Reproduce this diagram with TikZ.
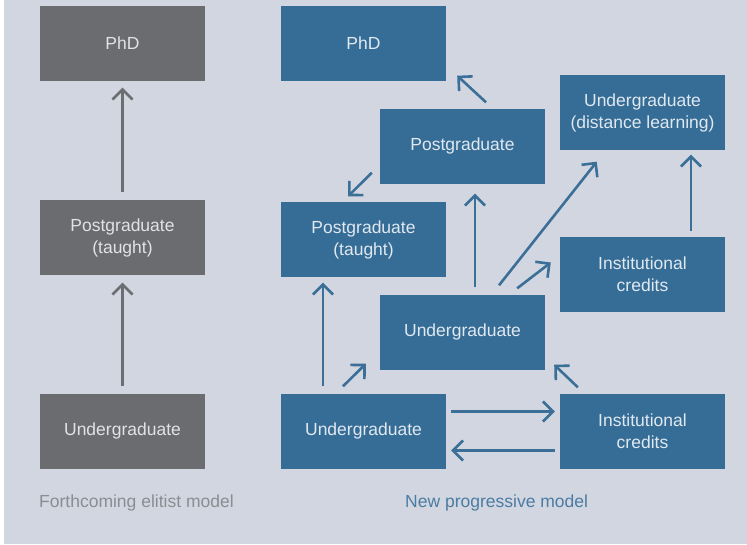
\documentclass[tikz,border=0pt]{standalone}
\usepackage{fontspec}
\setmainfont{Liberation Sans}
\usetikzlibrary{arrows.meta,calc}

\definecolor{bgcol}{HTML}{D1D6E1}
\definecolor{greybox}{HTML}{6B6C70}
\definecolor{bluebox}{HTML}{366D96}
\definecolor{greyline}{HTML}{6D6E71}
\definecolor{blueline}{HTML}{3B6F97}
\definecolor{greytext}{HTML}{E2E2E3}
\definecolor{bluetext}{HTML}{E0E8F0}
\definecolor{greycap}{HTML}{8A8D92}
\definecolor{bluecap}{HTML}{4C7CA2}

\tikzset{
  box/.style={minimum width=165pt, minimum height=75pt, inner sep=0pt,
    align=center, font=\fontsize{17.5}{22}\selectfont},
  oldbox/.style={box, fill=greybox, text=greytext},
  newbox/.style={box, fill=bluebox, text=bluetext},
  link/.style={line width=2.6pt,
    -{Straight Barb[length=10pt,width=20pt,line width=2.6pt]}},
  oldlink/.style={link, draw=greyline},
  newlink/.style={link, draw=blueline},
  caption/.style={anchor=base west, inner sep=0pt,
    font=\fontsize{17.5}{20}\selectfont}
}

\begin{document}
\begin{tikzpicture}[x=1pt, y=-1pt]
  % background panel
  \fill[white] (0,0) rectangle (747,544);
  \fill[bgcol] (4,0) rectangle (747,544);
  \useasboundingbox (0,0) rectangle (747,544);

  % elitist model
  \node[oldbox] (lphd) at (122.5,43) {PhD};
  \node[oldbox] (lpgt) at (122.5,237.5) {Postgraduate\\(taught)};
  \node[oldbox] (lug)  at (122.5,431) {Undergraduate};

  \draw[oldlink] ($(lpgt.north)+(0,-8)$) -- ($(lphd.south)+(0,7)$);
  \draw[oldlink] ($(lug.north)+(0,-7)$) -- ($(lpgt.south)+(0,7.5)$);

  % progressive model
  \node[newbox] (rphd) at (363.5,43) {PhD};
  \node[newbox] (pg)   at (462.5,146) {Postgraduate};
  \node[newbox] (pgt)  at (363.5,239.5) {Postgraduate\\(taught)};
  \node[newbox] (ugm)  at (462.5,332) {Undergraduate};
  \node[newbox] (ugd)  at (642.5,112.5) {Undergraduate\\(distance learning)};
  \node[newbox] (ict)  at (642.5,274.5) {Institutional\\credits};
  \node[newbox] (icb)  at (642.5,431) {Institutional\\credits};
  \node[newbox] (ugb)  at (363.5,431) {Undergraduate};

  \draw[newlink] ($(pg.north)+(23.5,-6)$) -- ($(rphd.south east)+(11,-5)$);
  \draw[newlink] ($(pg.south west)+(-8,-11)$) -- ($(pgt.north)+(-15.5,-5.5)$);
  \draw[newlink] ($(ugm.north)+(12.5,-7)$) -- ($(pg.south)+(12.5,10)$);
  \draw[newlink] ($(ugm.north)+(36.5,-9)$) -- ($(ugd.south west)+(37,11.5)$);
  \draw[newlink] ($(ugm.north east)+(-28,-6)$) -- ($(ict.west)+(-9,-12)$);
  \draw[newlink] ($(ict.north)+(48.5,-6)$) -- ($(ugd.south)+(48.5,4.5)$);
  \draw[newlink] ($(ugb.north)+(-40.5,-7)$) -- ($(pgt.south)+(-40.5,5.5)$);
  \draw[newlink] ($(ugb.north)+(-20.5,-7)$) -- ($(ugm.south west)+(-14,-6)$);
  \draw[newlink] ($(icb.north west)+(18,-6)$) -- ($(ugm.south east)+(9,-5)$);
  \draw[newlink] ($(ugb.east)+(5,-19.5)$) -- ($(icb.west)+(-5,-19.5)$);
  \draw[newlink] ($(icb.west)+(-5,19.5)$) -- ($(ugb.east)+(5,19.5)$);

  % captions
  \node[caption, text=greycap] (capold) at (39,507) {Forthcoming elitist model};
  \node[caption, text=bluecap] (capnew) at (405,507) {New progressive model};
\end{tikzpicture}
\end{document}
